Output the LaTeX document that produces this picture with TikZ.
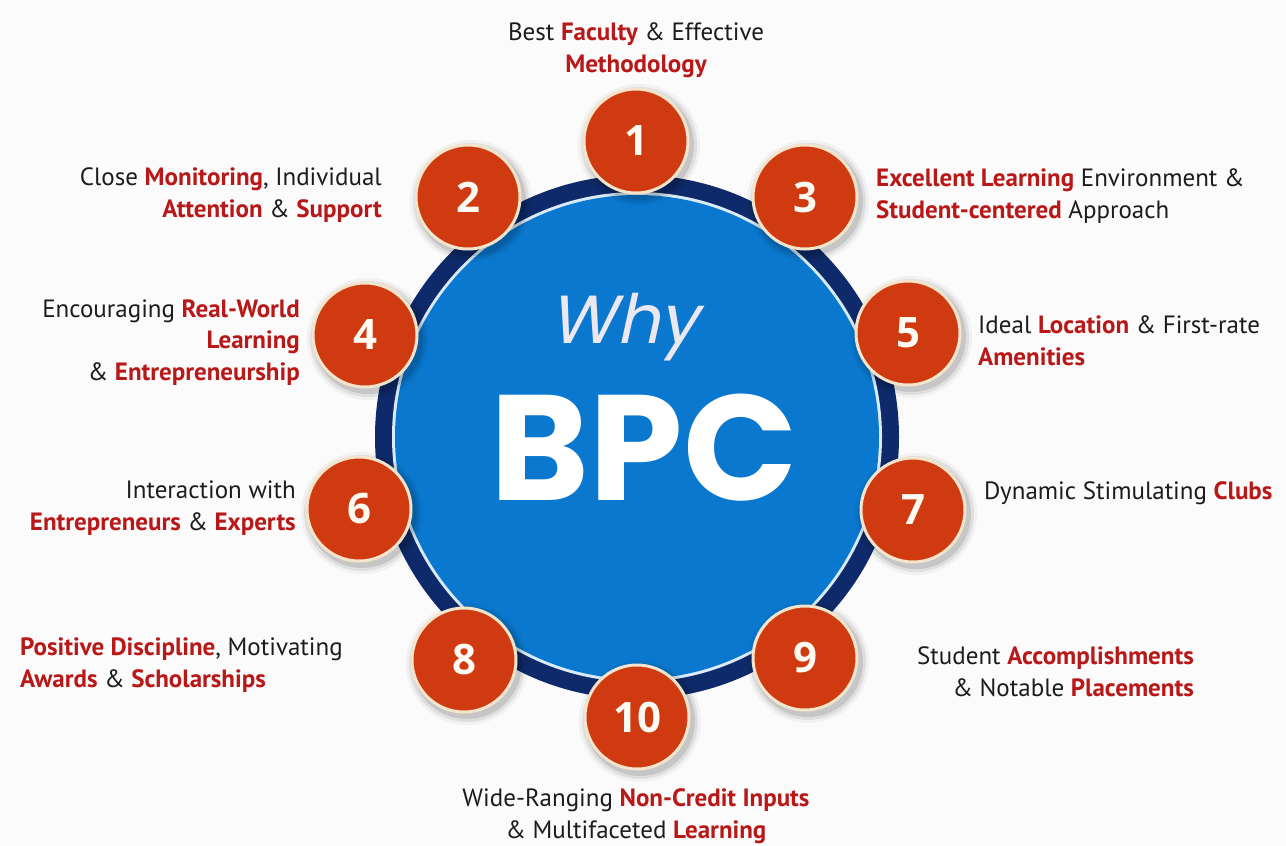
\documentclass[tikz,border=0pt]{standalone}
\usepackage{fontspec}
\setmainfont{PT Sans}
\newfontfamily\bpcfont{Poppins}
\newfontfamily\whyfont{Poppins}[FakeSlant=0.22]
\newfontfamily\numfont{Open Sans}
\definecolor{bg}{HTML}{FBFBFB}
\definecolor{navy}{HTML}{0E2A6A}
\definecolor{inblue}{HTML}{0A78CE}
\definecolor{rfill}{HTML}{CF3A10}
\definecolor{cream}{HTML}{F4E4CC}
\definecolor{tred}{HTML}{B81818}
\definecolor{tblk}{HTML}{1C1C1C}
\definecolor{whyc}{HTML}{ECE8F2}
\definecolor{numc}{HTML}{FFFBF2}
\newcommand{\hl}[1]{\textbf{\color{tred}#1}}
\tikzset{
  x=1pt, y=-1pt,
  numcirc/.style={circle, minimum size=104pt, inner sep=0pt, fill=rfill, draw=cream, line width=3pt,
     font=\numfont\bfseries\fontsize{42}{42}\selectfont, text=numc},
  lbl/.style={inner sep=0pt, font=\fontsize{25}{31.5}\selectfont, text=tblk},
}
\begin{document}
\begin{tikzpicture}
\fill[bg] (0,0) rectangle (1286,846);
\useasboundingbox (0,0) rectangle (1286,846);
% big circle
\node[circle, minimum size=524pt, inner sep=0pt, fill=navy] (ring) at (637,437) {};
\node[circle, minimum size=490pt, inner sep=0pt, fill=white!85!inblue] (gap) at (ring.center) {};
\node[circle, minimum size=484pt, inner sep=0pt, fill=inblue] (core) at (ring.center) {};
\node[inner sep=0pt, anchor=base, text=whyc, font=\whyfont\fontsize{68}{68}\selectfont] (why) at (624,343) {Why};
\node[inner sep=0pt, anchor=base, text=white, font=\bpcfont\bfseries\fontsize{150}{150}\selectfont] (bpc) at (644,500) {BPC};
% number circles
\foreach \n/\x/\y in {1/636/141, 2/468/197, 3/805/197, 4/365/335, 5/908/333, 6/359/509, 7/913/510, 8/464/660, 9/805/658, 10/637/717}{
  \foreach \k/\o in {9/0.04, 6/0.07, 3/0.11}{
    \fill[black, opacity=\o] (\x+3,\y+4) circle (52+\k);
  }
  \node[numcirc] (c\n) at (\x,\y) {\n};
}
% labels (base anchor = baseline of last line)
\node[lbl, anchor=base, align=center] (t1) at (636,72) {Best \hl{Faculty} \& Effective\\ \hl{Methodology}};
\node[lbl, anchor=base east, align=right] (t2) at (382,217) {Close \hl{Monitoring}, Individual\\ \hl{Attention} \& \hl{Support}};
\node[lbl, anchor=base west, align=left] (t3) at (876,218) {\hl{Excellent Learning} Environment \&\\ \hl{Student-centered} Approach};
\node[lbl, anchor=base east, align=right] (t4) at (300,380) {Encouraging \hl{Real-World}\\ \hl{Learning}\\ \& \hl{Entrepreneurship}};
\node[lbl, anchor=base west, align=left] (t5) at (978,365) {Ideal \hl{Location} \& First-rate\\ \hl{Amenities}};
\node[lbl, anchor=base east, align=right] (t6) at (296,530) {Interaction with\\ \hl{Entrepreneurs} \& \hl{Experts}};
\node[lbl, anchor=base west, align=left] (t7) at (984,499) {Dynamic Stimulating \hl{Clubs}};
\node[lbl, anchor=base west, align=left] (t8) at (20,687) {\hl{Positive Discipline}, Motivating\\ \hl{Awards} \& \hl{Scholarships}};
\node[lbl, anchor=base east, align=right] (t9) at (1194,696) {Student \hl{Accomplishments}\\ \& Notable \hl{Placements}};
\node[lbl, anchor=base, align=center] (t10) at (636,838) {Wide-Ranging \hl{Non-Credit Inputs}\\ \& Multifaceted \hl{Learning}};
\end{tikzpicture}
\end{document}
